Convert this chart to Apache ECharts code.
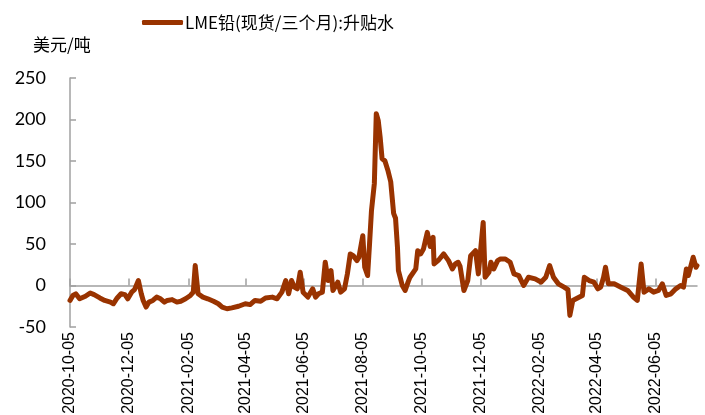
<!DOCTYPE html>
<html>
<head>
<meta charset="utf-8">
<script src="https://cdn.jsdelivr.net/npm/echarts@6/dist/echarts.min.js"></script>
<style>
html,body{margin:0;padding:0;background:#fff;}
#chart{width:705px;height:415px;}
</style>
</head>
<body>
<div id="chart"></div>
<script>
// Axis range (calendar days)
const startDate = '2020-10-05';
const endDate = '2022-07-18';
// Tick labels shown on the x axis
const tickLabels = ['2020-10-05','2020-12-05','2021-02-05','2021-04-05','2021-06-05','2021-08-05','2021-10-05','2021-12-05','2022-02-05','2022-04-05','2022-06-05'];
const yTicks = {min: -50, max: 250, interval: 50};
const seriesName = 'LME铅(现货/三个月):升贴水';
const unitLabel = '美元/吨';

// Observed dates and values (USD/t)
const obsDates = [
'2020-10-05','2020-10-08','2020-10-11','2020-10-15','2020-10-21','2020-10-26','2020-10-30','2020-11-05','2020-11-10','2020-11-16',
'2020-11-19','2020-11-23','2020-11-27','2020-12-01','2020-12-04','2020-12-08','2020-12-11','2020-12-15','2020-12-18','2020-12-20',
'2020-12-23','2020-12-26','2020-12-30','2021-01-03','2021-01-07','2021-01-11','2021-01-14','2021-01-19','2021-01-24','2021-01-28',
'2021-02-02','2021-02-07','2021-02-10','2021-02-12','2021-02-15','2021-02-20','2021-02-25','2021-03-03','2021-03-08','2021-03-12',
'2021-03-17','2021-03-22','2021-03-29','2021-04-05','2021-04-10','2021-04-15','2021-04-21','2021-04-26','2021-05-03','2021-05-08',
'2021-05-13','2021-05-17','2021-05-20','2021-05-23','2021-05-26','2021-05-29','2021-06-01','2021-06-04','2021-06-09','2021-06-14',
'2021-06-17','2021-06-20','2021-06-24','2021-06-27','2021-06-30','2021-07-03','2021-07-05','2021-07-10','2021-07-13','2021-07-17',
'2021-07-20','2021-07-23','2021-07-26','2021-07-30','2021-08-01','2021-08-05','2021-08-07','2021-08-10','2021-08-12','2021-08-14',
'2021-08-17','2021-08-19','2021-08-21','2021-08-23','2021-08-25','2021-08-28','2021-08-31','2021-09-03','2021-09-06','2021-09-08',
'2021-09-10','2021-09-11','2021-09-15','2021-09-18','2021-09-21','2021-09-23','2021-09-29','2021-10-01','2021-10-04','2021-10-07',
'2021-10-09','2021-10-11','2021-10-14','2021-10-17','2021-10-18','2021-10-23','2021-10-28','2021-11-02','2021-11-06','2021-11-09',
'2021-11-12','2021-11-14','2021-11-18','2021-11-22','2021-11-25','2021-11-30','2021-12-03','2021-12-05','2021-12-08','2021-12-10',
'2021-12-14','2021-12-16','2021-12-19','2021-12-23','2021-12-26','2021-12-31','2022-01-05','2022-01-09','2022-01-14','2022-01-19',
'2022-01-24','2022-01-31','2022-02-06','2022-02-11','2022-02-15','2022-02-19','2022-02-24','2022-03-02','2022-03-06','2022-03-08',
'2022-03-11','2022-03-16','2022-03-21','2022-03-23','2022-03-28','2022-04-02','2022-04-06','2022-04-09','2022-04-12','2022-04-14',
'2022-04-17','2022-04-23','2022-04-30','2022-05-07','2022-05-13','2022-05-17','2022-05-21','2022-05-24','2022-05-29','2022-06-03',
'2022-06-08','2022-06-12','2022-06-16','2022-06-21','2022-06-26','2022-07-01','2022-07-04','2022-07-07','2022-07-09','2022-07-14',
'2022-07-17','2022-07-18'
];
const obsValues = [
-18,-12,-10,-16,-13,-9,-11,-15,-18,-20,
-22,-15,-10,-11,-16,-8,-5,6,-10,-18,
-26,-20,-18,-14,-16,-20,-18,-17,-20,-19,
-16,-12,-8,24,-10,-14,-16,-19,-22,-26,
-28,-27,-25,-22,-23,-18,-19,-15,-14,-16,
-8,6,-10,6,-2,-4,16,-8,-14,-4,
-14,-10,-8,28,6,18,-6,4,-8,-4,
14,38,36,30,34,60,22,12,50,90,
123,207,199,179,153,150,139,125,87,81,
46,18,0,-6,4,10,20,42,38,44,
54,64,47,58,26,31,38,30,20,26,
28,23,-6,6,36,42,14,14,76,10,
16,28,20,30,32,32,28,14,12,0,
10,8,4,10,24,10,2,-2,-5,-36,
-18,-15,-12,10,6,4,-4,-2,10,22,
2,2,-2,-6,-14,-18,26,-8,-4,-8,
-6,2,-12,-10,-4,0,-2,20,12,34,
22,24
];

// Build calendar-day categories
const categories = [];
(function(){
  const p = s => { const a = s.split('-').map(Number); return Date.UTC(a[0], a[1]-1, a[2]); };
  for (let t = p(startDate); t <= p(endDate); t += 86400000) {
    categories.push(new Date(t).toISOString().slice(0,10));
  }
})();
const idx = {};
categories.forEach((d,i)=>{ idx[d]=i; });
const lineData = categories.map(()=>null);
obsDates.forEach((d,i)=>{ if (idx[d] !== undefined) lineData[idx[d]] = obsValues[i]; });

const showTick = (i, v) => tickLabels.indexOf(v) >= 0;

const chart = echarts.init(document.getElementById('chart'));
chart.setOption({
  animation: false,
  backgroundColor: '#ffffff',
  title: {
    text: unitLabel,
    left: 33, top: 36, padding: 0,
    textStyle: {fontFamily: 'Noto Sans CJK SC', fontSize: 17, fontWeight: 'normal', color: '#000'}
  },
  legend: {
    top: 14, left: 142, padding: 0,
    icon: 'roundRect',
    itemWidth: 41, itemHeight: 5,
    textStyle: {fontFamily: 'Noto Sans CJK SC', fontSize: 17, color: '#000', padding: [0,0,0,-3]},
    data: [seriesName]
  },
  grid: {left: 70, right: 8, top: 78, bottom: 88, containLabel: false, outerBoundsMode: 'none'},
  xAxis: [
    {
      type: 'category', data: categories, boundaryGap: false,
      axisLine: {onZero: true, lineStyle: {color: '#a0a0a0', width: 1.5}},
      axisTick: {show: true, inside: true, length: 7, interval: showTick, lineStyle: {color: '#a0a0a0', width: 1.5}},
      axisLabel: {show: false},
      splitLine: {show: false}
    },
    {
      type: 'category', data: categories, boundaryGap: false, position: 'bottom',
      axisLine: {show: false, onZero: false},
      axisTick: {show: false},
      axisLabel: {show: true, interval: showTick, rotate: 90, margin: 5, fontFamily: 'Liberation Sans', fontSize: 16, color: '#000'},
      splitLine: {show: false}
    }
  ],
  yAxis: {
    type: 'value', min: yTicks.min, max: yTicks.max, interval: yTicks.interval,
    axisLine: {show: true, lineStyle: {color: '#a0a0a0', width: 1.5}},
    axisTick: {show: true, inside: true, length: 6, lineStyle: {color: '#a0a0a0', width: 1.5}},
    axisLabel: {margin: 24, fontFamily: 'Lato', fontSize: 18, color: '#000'},
    splitLine: {show: false}
  },
  series: [{
    name: seriesName, type: 'line', xAxisIndex: 0,
    data: lineData, connectNulls: true, showSymbol: false, symbol: 'none',
    itemStyle: {color: '#993300'},
    lineStyle: {color: '#993300', width: 5, join: 'round', cap: 'round'}
  }]
});
</script>
</body>
</html>
